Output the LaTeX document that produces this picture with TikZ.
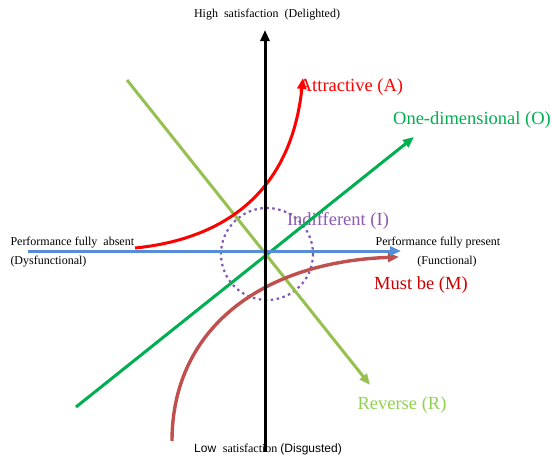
\documentclass[tikz,border=0pt]{standalone}
\usepackage{fontspec}
\setmainfont{Liberation Serif}
\setsansfont{Liberation Sans}
\usepackage{tikz}
\usetikzlibrary{arrows.meta,positioning,calc}
\definecolor{axisblue}{RGB}{85,142,213}
\definecolor{onegreen}{RGB}{0,176,80}
\definecolor{revline}{RGB}{150,192,80}
\definecolor{revtext}{RGB}{146,208,80}
\definecolor{mustline}{RGB}{192,80,77}
\definecolor{musttext}{RGB}{200,0,0}
\definecolor{indiff}{RGB}{112,48,160}
\definecolor{indiffdot}{RGB}{128,90,180}
\newcommand{\smalltext}{\fontsize{12}{14}\selectfont}
\newcommand{\bigtext}{\fontsize{18.5}{22}\selectfont}

\begin{document}
\begin{tikzpicture}[x=1pt,y=-1pt,->,>={Triangle[length=11pt,width=9pt]},line width=3pt]
        \tikzstyle{axislabel} = [inner sep=0pt, font=\smalltext]
        \tikzstyle{typelabel} = [inner sep=0pt, font=\bigtext]
        \useasboundingbox (0,0) rectangle (552,458);

        % Points
        \coordinate (ybot) at (265,452);
        \coordinate (ytop) at (265,30);
        \coordinate (xleft) at (28,251);
        \coordinate (xright) at (401,251);
        \coordinate (o0) at (76,407);
        \coordinate (o1) at (414,137);
        \coordinate (r0) at (127,80);
        \coordinate (r1) at (370,385);
        \coordinate (a0) at (135,248);
        \coordinate (a1) at (303,78);
        \coordinate (m0) at (172,441);
        \coordinate (m1) at (399,257);
        \coordinate (ic) at (267,254);

        % Labels
        \node[axislabel] (high) at (267,15) {High\ \ satisfaction\ \ (Delighted)};
        \node[axislabel] (low) at (268,449) {\sffamily Low\ \ \rmfamily satisfaction \sffamily(Disgusted)};
        \node[axislabel, anchor=west] (absent) at (9,243) {Performance fully\ \ absent};
        \node[axislabel, anchor=west] (dysf) at (9,262) {(Dysfunctional)};
        \node[axislabel] (present) at (438,243) {Performance fully present};
        \node[axislabel] (func) at (447,262) {(Functional)};
        \node[typelabel, text=red] (attr) at (351,87) {Attractive (A)};
        \node[typelabel, text=onegreen] (onedim) at (472,120) {One-dimensional (O)};
        \node[typelabel, text=indiff!80] (indiff) at (338,221) {Indifferent (I)};
        \node[typelabel, text=musttext] (must) at (421,285) {Must be (M)};
        \node[typelabel, text=revtext] (rev) at (402,405) {Reverse (R)};

        % Curves and lines
        \draw[-, indiffdot, line width=2.2pt, dash pattern=on 2.5pt off 3.5pt] (ic) circle (46);
        \draw[onegreen] (o0) -- (o1);
        \draw[revline] (r0) -- (r1);
        \draw[red] (a0) .. controls (215,240) and (290,200) .. (a1);
        \draw[mustline, line width=3.4pt] (m0) .. controls (172,330) and (260,262) .. (m1);
        \draw[axisblue] (xleft) -- (xright);
        \draw[black] (ybot) -- (ytop);
    \end{tikzpicture}
\end{document}
